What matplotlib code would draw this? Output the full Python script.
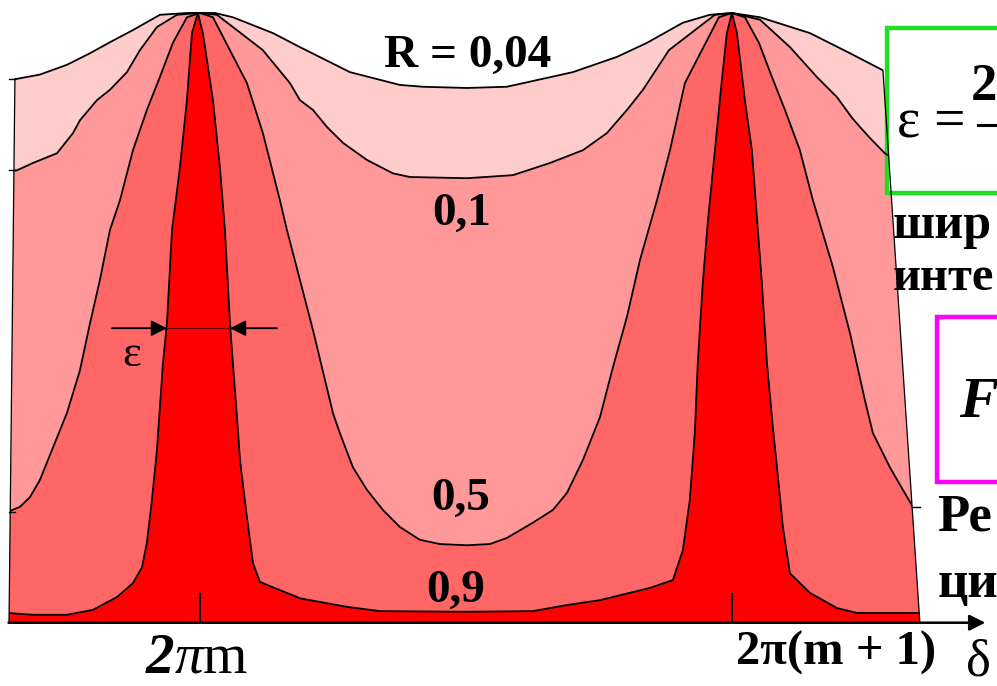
import matplotlib
matplotlib.use("Agg")
import matplotlib.pyplot as plt
from matplotlib.patches import Polygon, Rectangle

plt.rcParams['font.family'] = ['Liberation Serif', 'DejaVu Serif']
plt.rcParams['mathtext.fontset'] = 'custom'
plt.rcParams['mathtext.rm'] = 'Liberation Serif'
plt.rcParams['mathtext.it'] = 'Liberation Serif:italic'
plt.rcParams['mathtext.bf'] = 'Liberation Serif:bold'
plt.rcParams['mathtext.bfit'] = 'Liberation Serif:italic:bold'

# phase delta - 2*pi*m in degrees, transmission I/I0
# (first / last points lie outside the slanted frame and get clipped)
delta_004 = [-132.0, -128.6, -123.8, -108.3, -90.0, -74.4, -60.9, -45.3, -27.1, -8.8, 0, 10.2, 22.3,
             49.4, 67.7, 101.5, 135.3, 150.9, 180.7, 207.7, 252.4, 282.2, 302.5, 326.8, 345.1,
             360, 379.0, 412.8, 439.9, 462.2, 470.3, 495.0]
T_004 = [0.889, 0.890, 0.892, 0.899, 0.915, 0.934, 0.952, 0.972, 0.997, 1.0, 1.0, 1.0, 0.993,
         0.967, 0.944, 0.903, 0.882, 0.879, 0.877, 0.879, 0.903, 0.928, 0.951, 0.984, 0.997,
         1.0, 0.993, 0.967, 0.934, 0.906, 0.901, 0.890]

delta_01 = [-132.0, -128.6, -123.8, -113.0, -96.7, -85.9, -81.2, -69.7, -60.9, -49.4, -40.6, -29.1,
            -15.6, 0, 11.5, 22.3, 42.6, 60.9, 67.7, 76.5, 86.0, 96.8, 113.0, 130.6, 142.1, 180.7,
            211.8, 236.9, 259.2, 275.4, 289.0, 299.8, 317.4, 337.7, 348.5, 360, 379.0, 399.3,
            417.5, 431.1, 441.3, 446.7, 453.4, 463.5, 470.3, 495.0]
T_01 = [0.740, 0.741, 0.742, 0.754, 0.770, 0.803, 0.824, 0.857, 0.874, 0.903, 0.939, 0.977,
        0.997, 1.0, 0.997, 0.977, 0.939, 0.885, 0.857, 0.841, 0.813, 0.787, 0.759, 0.737, 0.731,
        0.729, 0.734, 0.754, 0.775, 0.803, 0.841, 0.874, 0.939, 0.977, 0.997, 1.0, 0.989, 0.944,
        0.895, 0.862, 0.828, 0.813, 0.795, 0.770, 0.759, 0.740]

delta_05 = [-133.0, -129.9, -121.8, -115.0, -108.3, -101.5, -90.0, -81.2, -74.4, -67.7, -60.9,
            -54.1, -45.3, -35.9, -27.1, -18.3, -8.8, 0, 8.8, 20.3, 31.8, 42.6, 54.1, 58.9, 67.7,
            76.5, 90.0, 94.7, 103.5, 113.0, 123.8, 135.3, 148.8, 162.4, 180.7, 196.2, 207.7,
            225.3, 238.9, 248.4, 259.2, 270.7, 279.5, 289.0, 297.8, 309.3, 318.1, 328.2, 339.7,
            351.2, 360, 368.8, 378.3, 387.1, 395.9, 406.0, 414.8, 428.4, 439.9, 450.0, 455.4,
            466.9, 475.7, 482.5, 495.0]
T_05 = [0.181, 0.182, 0.190, 0.206, 0.234, 0.275, 0.344, 0.414, 0.491, 0.562, 0.644, 0.693,
        0.775, 0.841, 0.895, 0.951, 0.993, 1.0, 0.993, 0.939, 0.885, 0.803, 0.693, 0.644, 0.562,
        0.480, 0.344, 0.311, 0.255, 0.218, 0.185, 0.157, 0.136, 0.129, 0.127, 0.129, 0.139,
        0.164, 0.185, 0.213, 0.267, 0.337, 0.419, 0.502, 0.595, 0.693, 0.775, 0.885, 0.939,
        0.993, 1.0, 0.993, 0.951, 0.895, 0.841, 0.775, 0.693, 0.583, 0.475, 0.365, 0.311,
        0.255, 0.218, 0.190, 0.178]

delta_09 = [-133.0, -129.9, -113.0, -90.0, -72.4, -56.2, -45.3, -39.2, -35.9, -32.5, -29.1, -25.0,
            -22.3, -18.9, -13.5, -8.8, -5.4, -1.4, 2.0, 8.8, 13.5, 16.9, 20.3, 22.3, 25.7, 27.1,
            31.8, 35.9, 40.6, 49.4, 62.9, 67.7, 99.5, 121.8, 180.7, 225.3, 248.4, 270.7, 304.5,
            320.1, 326.8, 331.5, 334.9, 336.9, 340.3, 343.8, 348.5, 353.2, 356.6, 360, 363.4,
            368.8, 373.5, 376.9, 380.3, 383.7, 387.7, 390.5, 394.5, 399.3, 412.8, 431.1, 444.6,
            495.0]
T_09 = [0.016, 0.016, 0.013, 0.013, 0.021, 0.042, 0.065, 0.091, 0.131, 0.201, 0.283, 0.426,
        0.492, 0.644, 0.747, 0.857, 0.967, 1.0, 0.967, 0.857, 0.747, 0.644, 0.492, 0.426, 0.316,
        0.267, 0.173, 0.098, 0.067, 0.058, 0.045, 0.040, 0.026, 0.019, 0.018, 0.019, 0.029,
        0.037, 0.057, 0.070, 0.119, 0.201, 0.311, 0.426, 0.557, 0.660, 0.775, 0.890, 0.967,
        1.0, 0.967, 0.857, 0.775, 0.665, 0.557, 0.426, 0.321, 0.255, 0.157, 0.081, 0.049,
        0.024, 0.016, 0.016]

curves = [(delta_004, T_004, '#FFCCCC'),
          (delta_01, T_01, '#FF9999'),
          (delta_05, T_05, '#FF6666'),
          (delta_09, T_09, '#FF0000')]

# slanted frame of the drawing
frame = [(-124.6, 1.021), (459.0, 1.021), (487.2, 0.0), (-129.2, 0.0)]
border_left = ([-125.2, -129.2], [0.892, 0.0])
border_right = ([462.2, 487.2], [0.906, 0.0])
peaks = [0, 360]
eps_level = 0.483
eps_edges = (-22.3, 20.3)

fig = plt.figure(figsize=(9.97, 6.86), dpi=100)
ax = fig.add_axes([0, 0, 1, 1])
ax.set_xlim(-135.3, 539.4)
ax.set_ylim(-0.1038, 1.0213)
ax.axis('off')

clip = Polygon(frame, closed=True, transform=ax.transData)

for d, t, c in curves:
    f = ax.fill_between(d, t, 0, color=c, lw=0)
    f.set_clip_path(clip)
for d, t, c in curves:
    ln, = ax.plot(d, t, color='k', lw=1.3)
    ln.set_clip_path(clip)

ax.plot(*border_left, color='k', lw=0.9)
ax.plot(*border_right, color='k', lw=0.9)

# small end ticks
for y in [T_004[2], T_01[2], T_05[1]]:
    ax.plot([-129.5, -125.0], [y, y], color='k', lw=1.0)
ax.plot([482.0, 487.0], [T_05[-2], T_05[-2]], color='k', lw=1.0)

# delta axis
ax.annotate('', xy=(531.5, 0), xytext=(-129.5, 0),
            arrowprops=dict(arrowstyle='-|>', lw=1.8, color='k', mutation_scale=24,
                            shrinkA=0, shrinkB=0))
ax.vlines(peaks, 0, 0.048, colors='k', lw=1.5)

# width epsilon
ax.plot(eps_edges, [eps_level, eps_level], color='#600000', lw=0.8)
ax.annotate('', xy=(eps_edges[0], eps_level), xytext=(-59.5, eps_level),
            arrowprops=dict(arrowstyle='-|>', lw=1.3, color='k', mutation_scale=24,
                            shrinkA=0, shrinkB=0))
ax.annotate('', xy=(eps_edges[1], eps_level), xytext=(52.1, eps_level),
            arrowprops=dict(arrowstyle='-|>', lw=1.3, color='k', mutation_scale=24,
                            shrinkA=0, shrinkB=0))
ax.text(-46.0, 0.439, 'ε', fontsize=32, ha='center', va='center')

# R labels
lab = dict(fontsize=34, fontweight='bold', ha='center', va='baseline')
ax.text(181.0, 0.911, 'R = 0,04', **lab)
ax.text(177.3, 0.652, '0,1', **lab)
ax.text(176.3, 0.185, '0,5', **lab)
ax.text(172.9, 0.034, '0,9', **lab)

ax.text(-2.0, -0.082, r'$\mathbfit{2}\pi\mathrm{m}$', fontsize=41, ha='center', va='baseline')
ax.text(430.4, -0.069, '2π(m + 1)', fontsize=35, fontweight='bold', ha='center', va='baseline')
ax.text(527.0, -0.086, 'δ', fontsize=38, ha='center', va='baseline')

# right side notes, cut by the picture edge as in the original slide
ax.add_patch(Rectangle((464.9, 0.705), 90, 0.270, fill=True, facecolor='white',
                       edgecolor='#22DD22', lw=3.2))
ax.text(472.0, 0.796, 'ε =', fontsize=40, ha='left', va='baseline')
ax.plot([526.5, 545], [0.816, 0.816], color='k', lw=2.2)
ax.text(521.5, 0.857, '2', fontsize=38, fontweight='bold', ha='left', va='baseline')

ax.text(469.0, 0.631, 'шир', fontsize=36, fontweight='bold', ha='left', va='baseline')
ax.text(469.0, 0.545, 'инте', fontsize=35, fontweight='bold', ha='left', va='baseline')

ax.add_patch(Rectangle((498.7, 0.231), 60, 0.270, fill=True, facecolor='white',
                       edgecolor='#FF00FF', lw=3.2))
ax.text(513.5, 0.337, 'F', fontsize=42, fontweight='bold', fontstyle='italic',
        ha='left', va='baseline')

ax.text(498.7, 0.152, 'Ре', fontsize=38, fontweight='bold', ha='left', va='baseline')
ax.text(499.3, 0.042, 'ци', fontsize=38, fontweight='bold', ha='left', va='baseline')

fig.savefig('out.png', dpi=100)
